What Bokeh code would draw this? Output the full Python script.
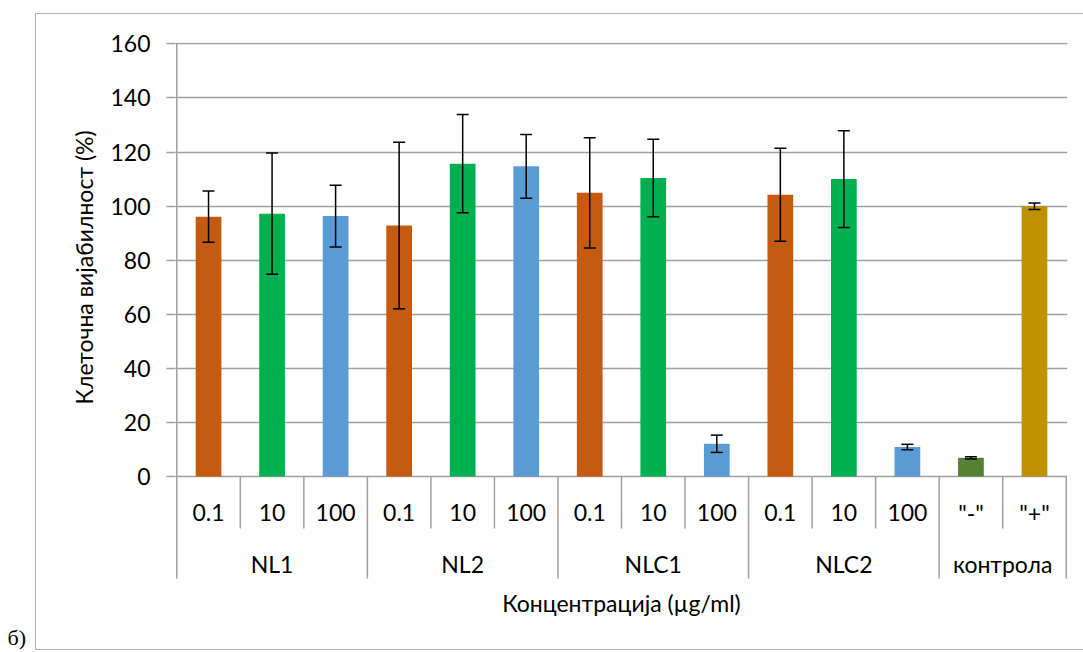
from bokeh.plotting import figure
from bokeh.models import ColumnDataSource, Range1d, FixedTicker, Whisker, TeeHead, Title
from bokeh.core.properties import value
from bokeh.embed import file_html
from bokeh.resources import INLINE

# --- data -------------------------------------------------------------------
groups = ["NL1", "NL2", "NLC1", "NLC2", "контрола"]
group_sizes = [3, 3, 3, 3, 2]
sub_labels = ["0.1", "10", "100", "0.1", "10", "100", "0.1", "10", "100",
              "0.1", "10", "100", '"-"', '"+"']
viability = [96.1, 97.2, 96.3, 92.8, 115.7, 114.7, 104.9, 110.4, 12.1,
             104.2, 110.0, 10.9, 6.9, 99.9]
sd = [9.5, 22.4, 11.4, 30.8, 18.2, 11.8, 20.4, 14.3, 3.2,
      17.2, 17.9, 1.0, 0.4, 1.2]
bar_colors = ["#C55A11", "#00B050", "#5B9BD5"] * 4 + ["#548235", "#BF9000"]
y_ticks = [0, 20, 40, 60, 80, 100, 120, 140, 160]

FONT = "Lato"
FSIZE = "23px"
GRID = "#A0A0A0"

# --- figure geometry --------------------------------------------------------
W, H = 1083, 652
LEFT, RIGHT, TOP, BOTTOM = 175, 16, 42, 26
top_px, zero_px = 43.35, 476.0
px_per_unit = (zero_px - top_px) / 160.0
y_start = -((H - BOTTOM) - zero_px) / px_per_unit


def depth(px):
    """value-axis position of a point px pixels below the zero line"""
    return -px / px_per_unit


p = figure(width=W, height=H, output_backend="svg", toolbar_location=None,
           x_range=Range1d(-0.02, 14.02), y_range=Range1d(y_start, 160.5),
           min_border_left=LEFT, min_border_right=RIGHT, min_border_top=TOP,
           min_border_bottom=BOTTOM, outline_line_color=None,
           background_fill_color="white", border_fill_color="white")

p.xaxis.visible = False
p.xgrid.visible = False
p.ygrid.ticker = FixedTicker(ticks=y_ticks)
p.ygrid.grid_line_color = GRID
p.ygrid.grid_line_width = 1.5

ax = p.yaxis[0]
ax.ticker = FixedTicker(ticks=y_ticks)
ax.minor_tick_line_color = None
ax.axis_line_color = None
ax.major_tick_in = 0
ax.major_tick_out = 9
ax.major_tick_line_color = GRID
ax.major_tick_line_width = 1.5
ax.major_label_standoff = 16
ax.major_label_text_font = FONT
ax.major_label_text_font_size = FSIZE
ax.major_label_text_color = "black"

# value-axis title, placed beside the 0–160 part of the axis
p.add_layout(Title(text="Клеточна вијабилност (%)", align="left", offset=222,
                   vertical_align="bottom", standoff=20, text_font=FONT,
                   text_font_size=FSIZE, text_font_style="normal",
                   text_color="black"), "left")

# --- bars and error bars ----------------------------------------------------
n = len(viability)
centers = [i + 0.5 for i in range(n)]
src = ColumnDataSource(dict(
    x=centers, top=viability, color=bar_colors,
    upper=[v + e for v, e in zip(viability, sd)],
    lower=[v - e for v, e in zip(viability, sd)],
))
p.vbar(x="x", top="top", width=0.405, fill_color="color", line_color=None, source=src)

head = dict(size=12, line_color="black", line_width=1.5)
p.add_layout(Whisker(base="x", upper="upper", lower="lower", source=src,
                     level="annotation", line_color="black", line_width=1.5,
                     upper_head=TeeHead(**head), lower_head=TeeHead(**head)))

# --- category axis drawn Excel-style: two label rows with dividers ---------
bounds = [0]
for s in group_sizes:
    bounds.append(bounds[-1] + s)
inner = [i for i in range(n + 1) if i not in bounds]

p.segment(x0=inner, x1=inner, y0=[0] * len(inner), y1=[depth(52)] * len(inner),
          line_color=GRID, line_width=1.5)
p.segment(x0=bounds, x1=bounds, y0=[0] * len(bounds), y1=[depth(102)] * len(bounds),
          line_color=GRID, line_width=1.5)
# value axis line
p.segment(x0=[0], x1=[0], y0=[0], y1=[160], line_color=GRID, line_width=1.5)

txt = dict(text_font=value(FONT), text_font_size=FSIZE, text_color="black",
           text_align="center", text_baseline="middle")
p.text(x=centers, y=[depth(36)] * n, text=sub_labels, **txt)
group_centers = [(a + b) / 2 for a, b in zip(bounds[:-1], bounds[1:])]
p.text(x=group_centers, y=[depth(87)] * len(groups), text=groups, **txt)
p.text(x=[n / 2], y=[depth(126)], text=["Концентрација (µg/ml)"], **txt)

# --- panel letter and chart-area border -------------------------------------
p.add_layout(Title(text="б)", align="left", offset=7 - LEFT, vertical_align="bottom",
                   standoff=-8, text_font="Liberation Serif", text_font_size="22px",
                   text_font_style="normal", text_color="black"), "below")
p.stylesheets = [":host::after {content: ''; position: absolute; box-sizing: border-box;"
                 " left: 35px; top: 13px; width: 1060px; height: 637px;"
                 " border: 1.5px solid #B0B0B0; pointer-events: none;}"]
p.styles = {"position": "relative"}

open("out.html", "w").write(file_html(p, INLINE))
